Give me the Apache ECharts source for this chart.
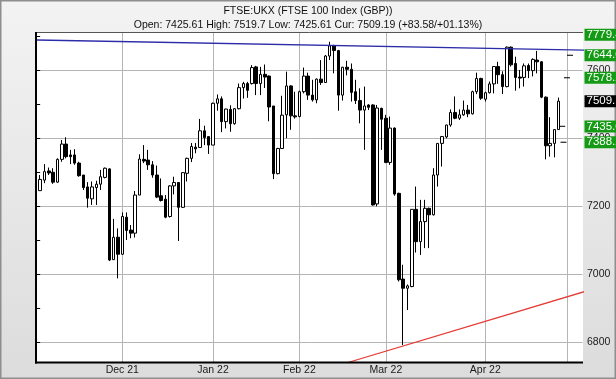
<!DOCTYPE html>
<html><head><meta charset="utf-8">
<script src="https://cdn.jsdelivr.net/npm/echarts@6/dist/echarts.min.js"></script>
<style>html,body{margin:0;padding:0;background:#e6e6e6}#c{width:616px;height:379px}</style>
</head><body><div id="c"></div>
<script>
const dates = [
'2021-11-04','2021-11-05','2021-11-08','2021-11-09','2021-11-10','2021-11-11','2021-11-12','2021-11-15','2021-11-16','2021-11-17','2021-11-18','2021-11-19','2021-11-22','2021-11-23','2021-11-24','2021-11-25','2021-11-26','2021-11-29','2021-11-30',
'2021-12-01','2021-12-02','2021-12-03','2021-12-06','2021-12-07','2021-12-08','2021-12-09','2021-12-10','2021-12-13','2021-12-14','2021-12-15','2021-12-16','2021-12-17','2021-12-20','2021-12-21','2021-12-22','2021-12-23','2021-12-24','2021-12-29','2021-12-30','2021-12-31',
'2022-01-04','2022-01-05','2022-01-06','2022-01-07','2022-01-10','2022-01-11','2022-01-12','2022-01-13','2022-01-14','2022-01-17','2022-01-18','2022-01-19','2022-01-20','2022-01-21','2022-01-24','2022-01-25','2022-01-26','2022-01-27','2022-01-28','2022-01-31',
'2022-02-01','2022-02-02','2022-02-03','2022-02-04','2022-02-07','2022-02-08','2022-02-09','2022-02-10','2022-02-11','2022-02-14','2022-02-15','2022-02-16','2022-02-17','2022-02-18','2022-02-21','2022-02-22','2022-02-23','2022-02-24','2022-02-25','2022-02-28',
'2022-03-01','2022-03-02','2022-03-03','2022-03-04','2022-03-07','2022-03-08','2022-03-09','2022-03-10','2022-03-11','2022-03-14','2022-03-15','2022-03-16','2022-03-17','2022-03-18','2022-03-21','2022-03-22','2022-03-23','2022-03-24','2022-03-25','2022-03-28','2022-03-29','2022-03-30','2022-03-31',
'2022-04-01','2022-04-04','2022-04-05','2022-04-06','2022-04-07','2022-04-08','2022-04-11','2022-04-12','2022-04-13','2022-04-14','2022-04-19','2022-04-20','2022-04-21','2022-04-22','2022-04-25','2022-04-26','2022-04-27','2022-04-28'];
const futureDates = ['2022-04-29','2022-05-03','2022-05-04','2022-05-05','2022-05-06'];

const opens = [7246,7277,7304,7300,7271,7338,7383,7351,7351,7327,
7292,7257,7222,7255,7265,7285,7310,7043,7109,7059,
7168,7130,7121,7233,7338,7336,7322,7292,7231,7221,
7170,7260,7270,7197,7297,7341,7374,7373,7422,7405,
7380,7503,7516,7449,7485,7443,7487,7549,7561,7561,
7610,7561,7588,7583,7495,7296,7370,7469,7554,7466,
7464,7537,7583,7527,7513,7574,7564,7642,7672,7658,
7527,7609,7603,7537,7511,7483,7498,7498,7207,7488,
7459,7329,7430,7238,6986,6959,6964,7191,7096,7155,
7194,7175,7292,7385,7404,7439,7476,7459,7469,7483,
7472,7537,7576,7515,7534,7560,7611,7587,7552,7668,
7620,7580,7579,7614,7599,7630,7625,7521,7378,7385,7425.61];
const highs = [7292,7324,7314,7312,7341,7395,7403,7366,7368,7331,
7292,7271,7273,7275,7307,7314,7312,7163,7135,7182,
7182,7145,7245,7353,7380,7366,7333,7320,7282,7233,
7262,7287,7271,7300,7343,7386,7386,7457,7437,7405,
7505,7529,7523,7487,7497,7489,7561,7566,7566,7615,
7613,7610,7617,7585,7495,7372,7525,7596,7556,7537,
7540,7608,7593,7572,7576,7630,7645,7684,7675,7660,
7610,7628,7620,7572,7547,7552,7500,7500,7498,7490,
7469,7464,7432,7240,7028,6970,7191,7258,7219,7219,
7196,7312,7385,7407,7440,7485,7523,7485,7511,7498,
7540,7593,7578,7537,7567,7611,7625,7597,7670,7670,
7640,7601,7620,7620,7635,7657,7627,7523,7462,7427,7519.7];
const lows = [7246,7268,7292,7266,7269,7331,7341,7324,7322,7287,
7248,7196,7204,7204,7248,7282,7039,7042,6988,7057,
7101,7106,7108,7233,7327,7307,7284,7224,7214,7165,
7167,7235,7098,7195,7273,7330,7356,7372,7380,7354,
7380,7481,7418,7429,7419,7440,7485,7517,7519,7558,
7527,7527,7548,7450,7280,7294,7370,7400,7425,7458,
7462,7532,7513,7508,7503,7557,7563,7630,7591,7481,
7511,7585,7508,7501,7444,7366,7483,7202,7200,7366,
7327,7322,7231,6979,6792,6895,6962,7064,7057,7077,
7077,7173,7258,7317,7400,7434,7456,7454,7466,7462,
7470,7530,7513,7508,7532,7532,7560,7530,7550,7611,
7540,7547,7552,7577,7582,7591,7518,7338,7346,7344,7425.61];
const closes = [7279,7302,7298,7271,7338,7383,7346,7346,7327,7290,
7255,7224,7257,7265,7287,7312,7042,7109,7059,7170,
7129,7121,7233,7339,7333,7322,7292,7227,7217,7168,
7260,7270,7197,7299,7341,7376,7369,7422,7402,7380,
7503,7516,7449,7486,7443,7487,7549,7561,7541,7608,
7561,7588,7580,7492,7296,7370,7468,7554,7466,7463,
7537,7583,7527,7513,7574,7564,7642,7672,7658,7527,
7609,7603,7535,7511,7483,7495,7491,7204,7489,7456,
7329,7430,7236,6984,6959,6966,7191,7096,7155,7194,
7175,7292,7385,7405,7439,7476,7459,7469,7483,7472,
7537,7576,7518,7534,7560,7611,7587,7552,7668,7616,
7579,7577,7613,7599,7632,7625,7521,7378,7385,7425.61,7509.19];

const monthStarts = ['2021-12-01','2022-01-04','2022-02-01','2022-03-01','2022-04-01','2022-05-03'];
const monthLabels = ['Dec 21','Jan 22','Feb 22','Mar 22','Apr 22',''];
const yTickValues = [6800,6900,7000,7100,7200,7300,7400,7500,7600,7700];
const yLabelValues = [6800,7000,7200,7400,7600];
const yMin = 6740.6, yMax = 7712.6;

const tagValues = [7779.45, 7644.04, 7578.21, 7435.04, 7388.21];
const currentPrice = 7509.19;
const targetLevels = [7644.04, 7578.21, 7435.04, 7388.21];
const targetSlots = [122.6, 121.9, 120.8, 121.1];
const blueTrend = [[-0.96, 7689.1], [133.25, 7657.6]];
const redTrend = [[71.24, 6740.6], [133.25, 6976.8]];

const titleText = 'FTSE:UKX (FTSE 100 Index (GBP))';
const subText = 'Open: 7425.61 High: 7519.7 Low: 7425.61 Cur: 7509.19 (+83.58/+01.13%)';

const FONT = '"Liberation Sans", Arial, sans-serif';
const categories = dates.concat(futureDates);
const ohlc = dates.map((d, i) => [opens[i], closes[i], lows[i], highs[i]]);
const GREEN = '#149a14';

function tag(v, text, bg) {
  return {
    yAxis: Math.min(v, yMax - 8),
    lineStyle: {color: 'rgba(0,0,0,0)', width: 0},
    label: {
      show: true, position: 'end', distance: 2, formatter: text,
      backgroundColor: bg, color: '#fff', fontSize: 11.5, fontFamily: FONT,
      padding: [1, 2, 0, 2], lineHeight: 11, width: 40, align: 'left'
    }
  };
}
const tagData = tagValues.map(v => tag(v, v.toFixed(2), GREEN));
tagData.push(tag(currentPrice, currentPrice.toFixed(2), '#000'));

const chart = echarts.init(document.getElementById('c'), null, {renderer: 'canvas'});
chart.setOption({
  animation: false,
  backgroundColor: 'transparent',
  title: {
    text: titleText, subtext: subText, left: 'center', top: 1, itemGap: 3,
    textStyle: {fontSize: 10.5, fontWeight: 'normal', color: '#111', fontFamily: FONT},
    subtextStyle: {fontSize: 10.5, color: '#111', fontFamily: FONT}
  },
  graphic: [
    {type: 'rect', z: -10, shape: {x: 0.75, y: 0.75, width: 614.5, height: 377.5},
     style: {fill: {type: 'linear', x: 0, y: 0, x2: 0, y2: 1, colorStops: [{offset: 0, color: '#f3f3f3'}, {offset: 1, color: '#dcdcdc'}]},
             stroke: '#8e8e8e', lineWidth: 1.5}},
    {type: 'rect', z: -9, shape: {x: 36, y: 32, width: 547, height: 330.5}, style: {fill: '#fff'}},
    {type: 'line', z: 5, shape: {x1: 36, y1: 32.5, x2: 583, y2: 32.5}, style: {stroke: '#555', lineWidth: 1}},
    {type: 'line', z: 5, shape: {x1: 36, y1: 32, x2: 36, y2: 363.5}, style: {stroke: '#000', lineWidth: 2}},
    {type: 'line', z: 5, shape: {x1: 35, y1: 362.5, x2: 583, y2: 362.5}, style: {stroke: '#000', lineWidth: 2}}
  ],
  grid: {left: 38, right: 33.5, top: 32, bottom: 16.5, containLabel: false},
  xAxis: [{
    type: 'category', data: categories, boundaryGap: true,
    axisLine: {show: false}, axisTick: {show: false},
    axisLabel: {
      interval: (idx, val) => { const k = monthStarts.indexOf(categories[idx]); return k >= 0 && monthLabels[k] !== ''; },
      formatter: (val) => { const k = monthStarts.indexOf(val); return k >= 0 ? monthLabels[k] : ''; },
      margin: 2, color: '#1a1a1a', fontSize: 10.5, fontFamily: FONT
    },
    splitLine: {
      show: true, alignWithLabel: true,
      interval: (idx, val) => monthStarts.indexOf(categories[idx]) >= 0,
      lineStyle: {color: '#b5b5b5', width: 1}
    }
  }, {
    type: 'value', min: -0.5, max: 125.5, show: false
  }],
  yAxis: [{
    type: 'value', position: 'right', min: yMin, max: yMax,
    axisLine: {show: false},
    axisTick: {show: true, inside: true, length: 3, lineStyle: {color: '#000'}, customValues: yTickValues},
    axisLabel: {show: true, customValues: yLabelValues, margin: 4.5, color: '#1a1a1a', fontSize: 10.5, fontFamily: FONT,
                formatter: v => String(v)},
    splitLine: {show: false}
  }, {
    type: 'value', position: 'left', offset: 2, min: yMin, max: yMax,
    axisLine: {show: false},
    axisTick: {show: true, inside: true, length: 3, lineStyle: {color: '#000'}, customValues: yTickValues},
    axisLabel: {show: false},
    splitLine: {show: false}
  }, {
    type: 'value', position: 'right', min: yMin, max: yMax, splitNumber: 5,
    axisLine: {show: false},
    axisTick: {show: false, customValues: yLabelValues},
    axisLabel: {show: false},
    splitLine: {show: true, lineStyle: {color: '#b5b5b5', width: 1}}
  }],
  series: [{
    type: 'candlestick', name: 'FTSE 100', xAxisIndex: 0, yAxisIndex: 0,
    data: ohlc, barWidth: 3,
    itemStyle: {color: '#ffffff', color0: '#000000', borderColor: '#000000', borderColor0: '#000000', borderWidth: 1}
  }, {
    type: 'line', name: 'resistance', xAxisIndex: 1, yAxisIndex: 0, data: blueTrend,
    showSymbol: false, clip: false, silent: true, z: 3,
    lineStyle: {color: '#2c2ca8', width: 1.3}
  }, {
    type: 'line', name: 'support', xAxisIndex: 1, yAxisIndex: 0, data: redTrend,
    showSymbol: false, clip: false, silent: true, z: 3,
    lineStyle: {color: '#e53b35', width: 1.3}
  }, {
    type: 'scatter', name: 'targets', xAxisIndex: 1, yAxisIndex: 0,
    data: targetLevels.map((v, i) => [targetSlots[i], v]),
    symbol: 'rect', symbolSize: [6, 1.3], silent: true,
    itemStyle: {color: '#000'},
    markLine: {
      symbol: ['none', 'none'], silent: true, animation: false, z: 10,
      data: tagData
    }
  }]
});
</script></body></html>
